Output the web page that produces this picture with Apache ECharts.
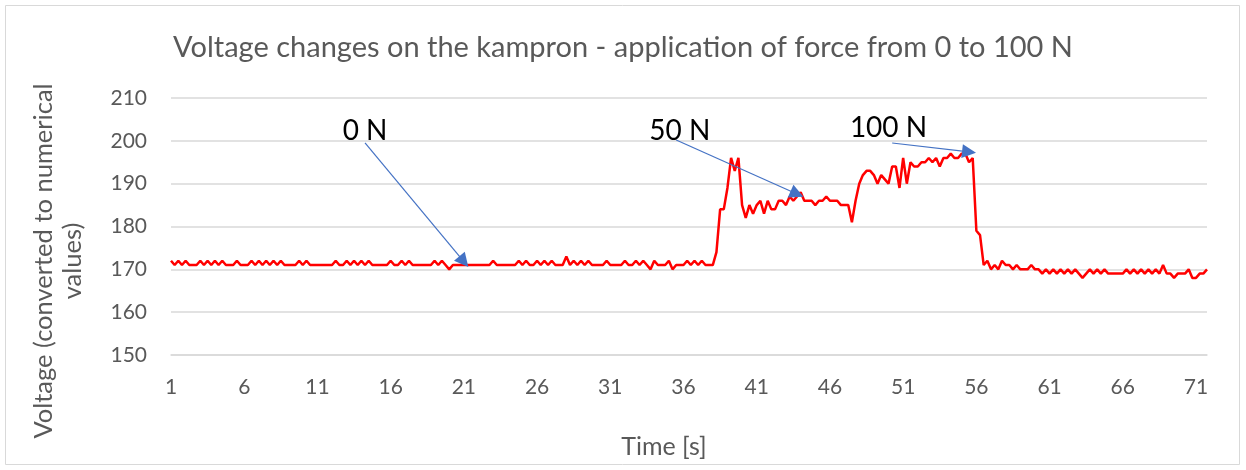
<!DOCTYPE html>
<html>
<head>
<meta charset="utf-8">
<script src="https://cdn.jsdelivr.net/npm/echarts@6/dist/echarts.min.js"></script>
<style>html,body{margin:0;padding:0;background:#fff}#c{width:1246px;height:470px}</style>
</head>
<body>
<div id="c"></div>
<script>
// Sampling grid of the recording (seconds)
const timeStart = 1;
const timeStep = 0.25;

// Voltage readings, 4 samples per second (t = 1 ... 71.75 s)
const voltage = [
  172,171,172,171, 172,171,171,171, 172,171,172,171, 172,171,172,171, 171,171,172,171,
  171,171,172,171, 172,171,172,171, 172,171,172,171, 171,171,171,172, 171,172,171,171,
  171,171,171,171, 171,172,171,171, 172,171,172,171, 172,171,172,171, 171,171,171,171,
  172,171,171,172, 171,172,171,171, 171,171,171,171, 172,171,172,171, 170,171,171,171,
  171,171,171,171, 171,171,171,171, 172,171,171,171, 171,171,171,172, 171,172,171,171,
  172,171,172,171, 172,171,171,171, 173,171,172,171, 172,171,172,171, 171,171,171,172,
  171,171,171,171, 172,171,171,172, 171,172,171,170, 172,171,171,171, 172,170,171,171,
  171,172,171,172, 171,172,171,171, 171,174,184,184, 189,196,193,196, 185,182,185,183,
  185,186,183,186, 184,184,186,186, 185,187,186,187, 188,186,186,186, 185,186,186,187,
  186,186,186,185, 185,185,181,186, 190,192,193,193, 192,190,192,191, 190,194,194,189,
  196,190,195,194, 194,195,195,196, 195,196,194,196, 196,197,196,196, 197,197,195,196,
  179,178,171,172, 170,171,170,172, 171,171,170,171, 170,170,170,171, 170,170,169,170,
  169,170,169,170, 169,170,169,170, 169,168,169,170, 169,170,169,170, 169,169,169,169,
  169,170,169,170, 169,170,169,170, 169,170,169,171, 169,169,168,169, 169,169,170,168,
  168,169,169,170
];

// Y axis ticks
const yTicks = [150, 160, 170, 180, 190, 200, 210];

// Annotations: label, label position [time, value], arrow start [time, value], arrow tip [time, value]
const annotLabels = ['0 N', '50 N', '100 N'];
const annotTextPos = [[14.25, 202.3], [35.75, 202.3], [50.0, 203]];
const annotArrowFrom = [[14.25, 199.5], [35.5, 200.2], [50.25, 199.5]];
const annotArrowTo = [[21.0, 171.8], [43.75, 187.6], [55.5, 197.4]];

const titleText = 'Voltage changes on the kampron - application of force from 0 to 100 N';
const yAxisTitle = 'Voltage (converted to numerical\nvalues)';
const xAxisTitle = 'Time [s]';

const categories = voltage.map((_, i) => String(timeStart + i * timeStep));
const toIdx = t => Math.round((t - timeStart) / timeStep);

const FONT = 'Lato, "Open Sans", sans-serif';
const chart = echarts.init(document.getElementById('c'), null, {renderer: 'canvas'});

chart.setOption({
  animation: false,
  backgroundColor: '#ffffff',
  title: {
    text: titleText,
    left: 'center',
    top: 28,
    textStyle: {fontFamily: FONT, fontSize: 29, fontWeight: 'normal', color: '#595959'}
  },
  grid: {left: 171, right: 39, top: 98, bottom: 115, containLabel: false},
  xAxis: {
    type: 'category',
    data: categories,
    boundaryGap: false,
    axisLine: {lineStyle: {color: '#d9d9d9', width: 1.5}},
    axisTick: {show: false},
    axisLabel: {
      interval: 19,
      margin: 22,
      fontFamily: FONT, fontSize: 21, color: '#595959'
    },
    splitLine: {show: false}
  },
  yAxis: {
    type: 'value',
    min: yTicks[0],
    max: yTicks[yTicks.length - 1],
    interval: 10,
    axisLine: {show: false},
    axisTick: {show: false},
    axisLabel: {margin: 24, fontFamily: FONT, fontSize: 21, color: '#595959'},
    splitLine: {lineStyle: {color: '#d9d9d9', width: 1.5}}
  },
  graphic: [
    {type: 'rect', shape: {x: 5.5, y: 5.5, width: 1234, height: 459}, style: {fill: 'none', stroke: '#d9d9d9', lineWidth: 1}, silent: true, z: -1},
    {type: 'text', x: 58, y: 261, rotation: Math.PI / 2,
      style: {text: yAxisTitle, fontFamily: FONT, fontSize: 25.5, lineHeight: 29, fill: '#595959', align: 'center', verticalAlign: 'middle'}},
    {type: 'text', x: 664, y: 447,
      style: {text: xAxisTitle, fontFamily: FONT, fontSize: 25, fill: '#595959', align: 'center', verticalAlign: 'middle'}}
  ],
  series: [{
    type: 'line',
    data: voltage,
    showSymbol: false,
    symbol: 'none',
    lineStyle: {color: '#ff0000', width: 2.5},
    itemStyle: {color: '#ff0000'},
    z: 2,
    markLine: {
      silent: true,
      symbol: ['none', 'triangle'],
      symbolSize: 14,
      lineStyle: {color: '#4472c4', width: 1.2, type: 'solid'},
      itemStyle: {color: '#4472c4'},
      label: {show: false},
      emphasis: {disabled: true},
      z: 5,
      data: annotLabels.map((_, i) => [
        {coord: [toIdx(annotArrowFrom[i][0]), annotArrowFrom[i][1]]},
        {coord: [toIdx(annotArrowTo[i][0]), annotArrowTo[i][1]]}
      ])
    },
    markPoint: {
      silent: true,
      symbol: 'circle',
      symbolSize: 0,
      label: {show: true, position: 'inside', fontFamily: FONT, fontSize: 28, color: '#000000',
        formatter: p => p.name},
      data: annotLabels.map((n, i) => ({name: n, coord: [toIdx(annotTextPos[i][0]), annotTextPos[i][1]]}))
    }
  }]
});
</script>
</body>
</html>
